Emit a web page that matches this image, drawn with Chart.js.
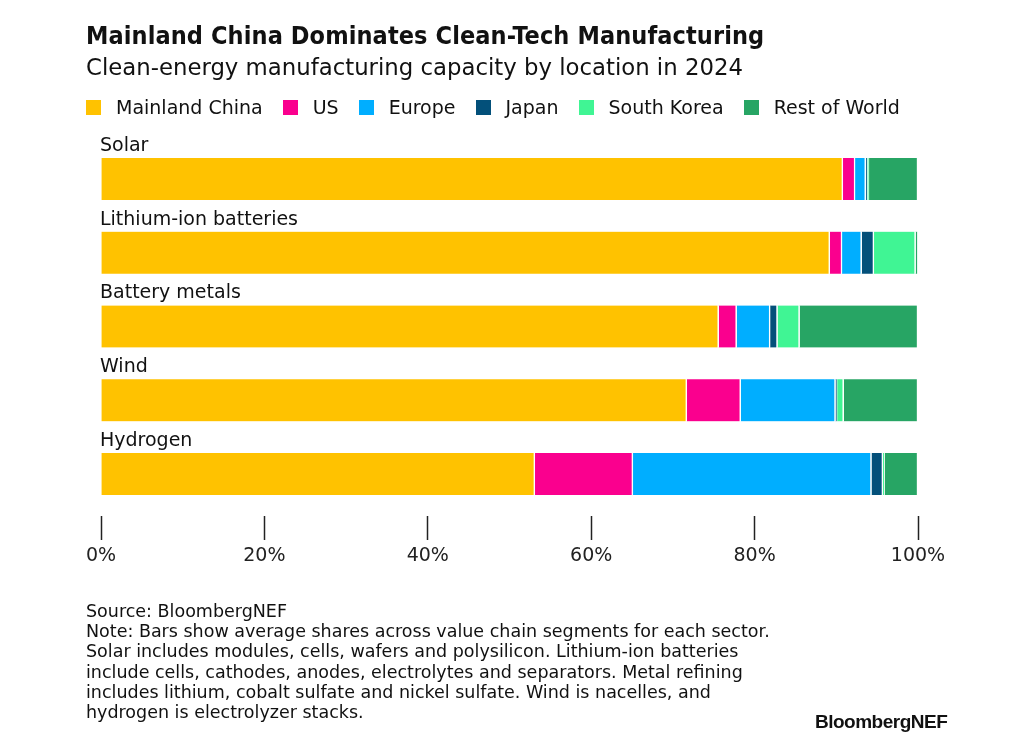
<!DOCTYPE html>
<html>
<head>
<meta charset="utf-8">
<script src="https://cdn.jsdelivr.net/npm/chart.js@4.4.1/dist/chart.umd.min.js"></script>
<style>
  html, body { margin: 0; padding: 0; background: #fff; }
  body { width: 1032px; height: 752px; position: relative; overflow: hidden;
         font-family: 'DejaVu Sans', sans-serif; color: #111; }
  #chart { position: absolute; left: 0; top: 0; }
  .txt { position: absolute; white-space: nowrap; }
  #title { left: 86px; top: 21px; font-size: 25px; font-weight: bold;
           font-family: 'DejaVu Sans Condensed', 'Liberation Sans', sans-serif; letter-spacing: 0.1px; }
  #subtitle { left: 86px; top: 54px; font-size: 22.8px; }
  #legend { left: 86px; top: 96px; font-size: 19px; display: flex; align-items: center; }
  #legend span.item { display: flex; align-items: center; margin-right: 20px; }
  #legend i { display: inline-block; width: 15px; height: 15px; margin-right: 15px; }
  #notes { left: 86px; top: 601px; font-size: 17.5px; line-height: 20.2px; }
  #logo { left: 815px; top: 711px; font-size: 19px; font-weight: bold; letter-spacing: -0.5px;
          font-family: 'Liberation Sans', Arial, sans-serif; }
</style>
</head>
<body>
<canvas id="chart" width="1032" height="752"></canvas>
<div id="title" class="txt">Mainland China Dominates Clean-Tech Manufacturing</div>
<div id="subtitle" class="txt">Clean-energy manufacturing capacity by location in 2024</div>
<div id="legend" class="txt"></div>
<div id="notes" class="txt">Source: BloombergNEF<br>Note: Bars show average shares across value chain segments for each sector.<br>Solar includes modules, cells, wafers and polysilicon. Lithium-ion batteries<br>include cells, cathodes, anodes, electrolytes and separators. Metal refining<br>includes lithium, cobalt sulfate and nickel sulfate. Wind is nacelles, and<br>hydrogen is electrolyzer stacks.</div>
<div id="logo" class="txt">BloombergNEF</div>
<script>
// Data (share of capacity, %)
const categories = ['Solar', 'Lithium-ion batteries', 'Battery metals', 'Wind', 'Hydrogen'];
const regions = ['Mainland China', 'US', 'Europe', 'Japan', 'South Korea', 'Rest of World'];
const mainlandChina = [90.8, 89.2, 75.6, 71.7, 53.1];
const us = [1.5, 1.5, 2.2, 6.6, 12.0];
const europe = [1.3, 2.4, 4.1, 11.6, 29.2];
const japan = [0.2, 1.5, 0.9, 0.2, 1.4];
const southKorea = [0.2, 5.1, 2.7, 0.8, 0.2];
const restOfWorld = [6.0, 0.3, 14.5, 9.1, 4.1];
const xTicks = [0, 20, 40, 60, 80, 100];

const colors = ['#ffc200', '#fa008e', '#00aeff', '#03507a', '#40f594', '#27a564'];
const series = [mainlandChina, us, europe, japan, southKorea, restOfWorld];
const font = "'DejaVu Sans', sans-serif";

// HTML legend
const legendEl = document.getElementById('legend');
regions.forEach((r, i) => {
    const s = document.createElement('span');
    s.className = 'item';
    s.innerHTML = '<i style="background:' + colors[i] + '"></i>' + r;
    legendEl.appendChild(s);
});

// category names above each bar
const barLabels = {
    id: 'barLabels',
    afterDatasetsDraw(chart) {
        const c = chart.ctx;
        const y = chart.scales.y;
        c.save();
        c.font = '19px ' + font;
        c.fillStyle = '#111';
        c.textBaseline = 'middle';
        c.textAlign = 'left';
        categories.forEach((cat, i) => {
            c.fillText(cat, chart.chartArea.left - 1, y.getPixelForValue(i) - 33);
        });
        c.restore();
    }
};

const ctx = document.getElementById('chart').getContext('2d');
new Chart(ctx, {
    type: 'bar',
    data: {
        labels: categories,
        datasets: series.map((d, i) => ({
            label: regions[i],
            data: d,
            backgroundColor: colors[i],
            borderColor: '#fff',
            borderWidth: { top: 0, bottom: 0, left: 0, right: 1.5 },
            borderSkipped: false,
            barThickness: 42
        }))
    },
    options: {
        indexAxis: 'y',
        responsive: false,
        animation: false,
        devicePixelRatio: 1,
        layout: {
            padding: { left: 101, right: 114, top: 142, bottom: 181 }
        },
        plugins: {
            legend: { display: false },
            tooltip: { enabled: false }
        },
        scales: {
            x: {
                stacked: true,
                min: 0,
                max: 100,
                afterBuildTicks: (scale) => { scale.ticks = xTicks.map(v => ({ value: v })); },
                afterFit: (scale) => { scale.height = 60; },
                border: { display: false },
                grid: {
                    drawOnChartArea: false,
                    drawTicks: true,
                    tickLength: 29,
                    tickColor: '#222',
                    tickWidth: 1.5,
                    tickBorderDash: [24, 10],
                    tickBorderDashOffset: 29
                },
                ticks: {
                    color: '#222',
                    padding: 5,
                    font: { size: 19, family: font },
                    callback: (v) => v + '%'
                }
            },
            y: {
                stacked: true,
                display: false
            }
        }
    },
    plugins: [barLabels]
});
</script>
</body>
</html>
